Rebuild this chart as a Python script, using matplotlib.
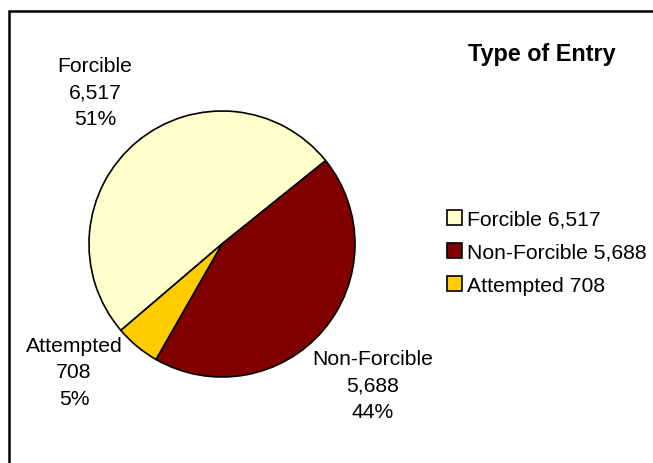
import matplotlib.pyplot as plt
from matplotlib.patches import Rectangle

plt.rcParams["font.family"] = ["Liberation Sans", "DejaVu Sans"]

categories = ["Forcible", "Non-Forcible", "Attempted"]
counts = [6517, 5688, 708]
count_labels = ["6,517", "5,688", "708"]
pct_labels = ["51%", "44%", "5%"]
colors = ["#FFFFCC", "#800000", "#FFCC00"]

W, H = 653, 464
fig = plt.figure(figsize=(W / 100, H / 100), dpi=100)
ax = fig.add_axes([0, 0, 1, 1])

# outer frame (right and bottom edges run off the picture)
ax.add_patch(Rectangle((9, -20), W + 20, H - 12 + 20, fill=False,
                       edgecolor="black", linewidth=1.8))

wedges, _ = ax.pie(counts, colors=colors, startangle=220.5, counterclock=False,
                   center=(222, H - 245), radius=133, frame=True,
                   wedgeprops=dict(edgecolor="black", linewidth=1.2))
ax.set_xlim(0, W)
ax.set_ylim(0, H)
ax.set_aspect("equal")
ax.axis("off")

fs = 15.2
# slice labels
label_pos = [(95, H - 93), (373, H - 386), (74, H - 373)]
for name, c, p, (x, y) in zip(categories, count_labels, pct_labels, label_pos):
    ax.text(x, y, f"{name}\n{c}\n{p}", ha="center", va="center",
            fontsize=fs, linespacing=1.5)

ax.text(542, H - 54, "Type of Entry", ha="center", va="center",
        fontsize=16.8, fontweight="bold")

leg_labels = [f"{n} {c}" for n, c in zip(categories, count_labels)]
ax.legend(wedges, leg_labels, loc="upper left",
          bbox_to_anchor=(447 / W, 1 - 211 / H), frameon=False,
          fontsize=fs, handlelength=0.72, handleheight=0.72,
          handletextpad=0.25, labelspacing=0.66, borderaxespad=0,
          borderpad=0)

fig.savefig("out.png", dpi=100)
